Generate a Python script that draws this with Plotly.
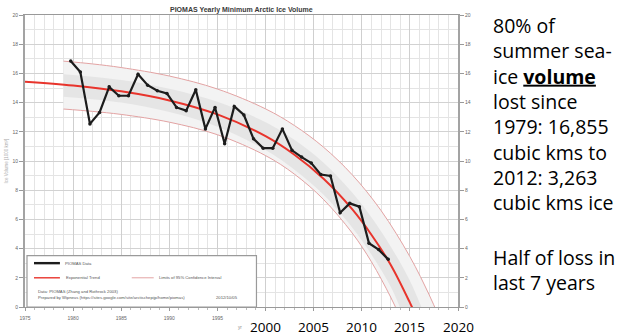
import plotly.graph_objects as go

# ---- PIOMAS yearly minimum Arctic sea-ice volume (1000 km^3) ----
years = list(range(1979, 2013))
volume = [16.855, 16.10, 12.54, 13.33, 15.08, 14.47, 14.47, 15.94, 15.19, 14.81,
          14.63, 13.67, 13.45, 14.88, 12.20, 13.67, 11.18, 13.74, 13.15, 11.52,
          10.88, 10.88, 12.20, 10.73, 10.27, 9.86, 9.07, 8.98, 6.46, 7.10,
          6.87, 4.37, 3.93, 3.263]
MINIMUM_OFFSET = 0.75  # September minimum, placed within its year

# Exponential trend
trend_years = [1975, 1980, 1985, 1990, 1995, 2000, 2003, 2006, 2009, 2011, 2013, 2015, 2016]
trend_vol = [15.43, 15.17, 14.77, 14.15, 13.19, 11.70, 10.43, 8.80, 6.70, 4.95, 2.90, 0.30, -1.15]

# Limits of 95% confidence interval
ci_hi_years = [1979, 1982, 1985, 1990, 1995, 2000, 2003, 2006, 2009, 2012, 2015, 2017, 2018]
ci_hi = [16.84, 16.65, 16.40, 15.82, 14.93, 13.57, 12.43, 10.96, 9.06, 6.61, 3.45, 0.84, -0.64]
ci_lo_years = [1979, 1982, 1985, 1990, 1995, 2000, 2003, 2006, 2009, 2011, 2013, 2014]
ci_lo = [13.56, 13.40, 13.19, 12.66, 11.80, 10.37, 9.10, 7.38, 5.07, 3.10, 0.68, -0.72]

# Inner shaded band around the trend
band_hi_years = [1979, 1985, 1990, 1995, 2000, 2003, 2006, 2009, 2011, 2013, 2015, 2016.5]
band_hi = [15.95, 15.55, 14.95, 14.05, 12.65, 11.45, 9.90, 7.85, 6.15, 4.15, 1.80, -0.50]
band_lo_years = [1979, 1985, 1990, 1995, 2000, 2003, 2006, 2009, 2011, 2013, 2014.5]
band_lo = [14.40, 14.00, 13.35, 12.35, 10.75, 9.40, 7.70, 5.45, 3.60, 1.40, -0.90]

small_year_ticks = list(range(1975, 2021, 5))
small_year_labels = ["1975", "1980", "1985", "1990", "1995", "", "", "", "", ""]
big_year_labels = [2000, 2005, 2010, 2015, 2020]

side_text = ("80% of<br>summer sea-<br>ice <b><u>volume</u></b><br>lost since<br>"
             "1979: 16,855<br>cubic kms to<br>2012: 3,263<br>cubic kms ice")
side_text2 = "Half of loss in<br>last 7 years"

# ---- layout geometry ----
W, H = 619, 335
ML, MR, MT, MB = 24, 161, 12, 28
PW, PH = W - ML - MR, H - MT - MB


def px_x(px):
    return (px - ML) / PW


def px_y(py):
    return (H - MB - py) / PH


RED = "#e8342c"
PINK = "#e3a3a3"
GREY_TXT = "#666666"

fig = go.Figure()

# outer confidence region
fig.add_trace(go.Scatter(x=ci_lo_years, y=ci_lo, mode="lines",
                         line=dict(color=PINK, width=1, shape="spline"),
                         hoverinfo="skip"))
fig.add_trace(go.Scatter(x=ci_hi_years, y=ci_hi, mode="lines",
                         line=dict(color=PINK, width=1, shape="spline"),
                         fill="tonexty", fillcolor="#f3f3f3", hoverinfo="skip"))
# inner band
fig.add_trace(go.Scatter(x=band_lo_years, y=band_lo, mode="lines",
                         line=dict(color="rgba(0,0,0,0)", width=0, shape="spline"),
                         hoverinfo="skip"))
fig.add_trace(go.Scatter(x=band_hi_years, y=band_hi, mode="lines",
                         line=dict(color="rgba(0,0,0,0)", width=0, shape="spline"),
                         fill="tonexty", fillcolor="#e5e5e5", hoverinfo="skip"))
# trend
fig.add_trace(go.Scatter(x=trend_years, y=trend_vol, mode="lines",
                         line=dict(color=RED, width=2, shape="spline"),
                         hoverinfo="skip"))
# data
fig.add_trace(go.Scatter(x=[y + MINIMUM_OFFSET for y in years], y=volume,
                         mode="lines+markers",
                         line=dict(color="#1c1c1c", width=2.2),
                         marker=dict(color="#1c1c1c", size=3.5)))
# right-hand axis companion
fig.add_trace(go.Scatter(x=[y + MINIMUM_OFFSET for y in years], y=volume,
                         yaxis="y2", mode="lines", opacity=0,
                         hoverinfo="skip"))

shapes = []
annotations = []

# legend box
shapes.append(dict(type="rect", xref="paper", yref="paper",
                   x0=px_x(26), x1=px_x(256), y0=px_y(307), y1=px_y(255),
                   fillcolor="white", line=dict(color="#9a9a9a", width=1.2),
                   layer="above"))
shapes.append(dict(type="line", xref="paper", yref="paper",
                   x0=px_x(33), x1=px_x(59), y0=px_y(262.7), y1=px_y(262.7),
                   line=dict(color="#1c1c1c", width=2.4), layer="above"))
shapes.append(dict(type="line", xref="paper", yref="paper",
                   x0=px_x(33), x1=px_x(59), y0=px_y(277.5), y1=px_y(277.5),
                   line=dict(color=RED, width=1.4), layer="above"))
shapes.append(dict(type="line", xref="paper", yref="paper",
                   x0=px_x(131), x1=px_x(153), y0=px_y(277.5), y1=px_y(277.5),
                   line=dict(color=PINK, width=1), layer="above"))


def tiny(text, x, y, size=4.2, color="#555555", anchor="left"):
    annotations.append(dict(text=text, xref="paper", yref="paper",
                            x=px_x(x), y=px_y(y), xanchor=anchor, yanchor="middle",
                            showarrow=False,
                            font=dict(size=size, color=color, family="Liberation Sans")))


tiny("PIOMAS Data", 62, 262.7)
tiny("Exponential Trend", 63, 277.5)
tiny("Limits of 95% Confidence Interval", 156, 277.5)
tiny("Data: PIOMAS (Zhang and Rothrock 2003)", 35, 291.5)
tiny("Prepared by Wipneus (https://sites.google.com/site/arctischepijp/home/piomas)", 35, 297.5)
tiny("2012/10/05", 213, 297.5)
tiny("yr", 235, 328, size=4.5, color="#888888")

# title
annotations.append(dict(text="<b>PIOMAS Yearly Minimum Arctic Ice Volume</b>",
                        xref="paper", yref="paper", x=px_x(241), y=px_y(7),
                        xanchor="center", yanchor="middle", showarrow=False,
                        font=dict(size=7, color="#3a3a3a", family="Liberation Sans")))

# y axis title
annotations.append(dict(text="Ice Volume [1000 km³]", xref="paper", yref="paper",
                        x=px_x(5), y=px_y(160), textangle=-90, showarrow=False,
                        xanchor="center", yanchor="middle",
                        font=dict(size=4.5, color="#aaaaaa", family="Liberation Sans")))

# large year labels
for yr in big_year_labels:
    annotations.append(dict(text=str(yr), xref="x", yref="paper", x=yr, y=px_y(327),
                            xanchor="center", yanchor="middle", showarrow=False,
                            font=dict(size=13.5, color="black", family="Open Sans")))

# side commentary
annotations.append(dict(text=side_text, xref="paper", yref="paper",
                        x=px_x(491), y=px_y(112.5), xanchor="left", yanchor="middle",
                        align="left", showarrow=False,
                        font=dict(size=19.5, color="black", family="Open Sans")))
annotations.append(dict(text=side_text2, xref="paper", yref="paper",
                        x=px_x(491), y=px_y(269.5), xanchor="left", yanchor="middle",
                        align="left", showarrow=False,
                        font=dict(size=19.5, color="black", family="Open Sans")))

axis_font = dict(size=5, color=GREY_TXT, family="Liberation Sans")

fig.update_layout(
    width=W, height=H,
    margin=dict(l=ML, r=MR, t=MT, b=MB, pad=0),
    paper_bgcolor="white", plot_bgcolor="white",
    showlegend=False,
    shapes=shapes, annotations=annotations,
    xaxis=dict(range=[1975, 2020], tickmode="array", tickvals=small_year_ticks,
               ticktext=small_year_labels, ticks="outside", ticklen=3,
               tickcolor="#999999", tickfont=axis_font, ticklabelstandoff=3,
               showgrid=True, gridcolor="#cfcfcf", gridwidth=1,
               minor=dict(dtick=1, tick0=1975, showgrid=True, gridcolor="#e4e4e4",
                          ticks="outside", ticklen=2, tickcolor="#bbbbbb"),
               showline=True, linecolor="#999999", linewidth=1, mirror=True,
               zeroline=False),
    yaxis=dict(range=[0, 20], tick0=0, dtick=2, ticks="outside", ticklen=4,
               tickcolor="#999999", tickfont=axis_font,
               showgrid=True, gridcolor="#d2d2d2",
               minor=dict(dtick=1, showgrid=True, gridcolor="#e4e4e4"),
               showline=True, linecolor="#a3a3a3", linewidth=2, zeroline=False),
    yaxis2=dict(range=[0, 20], tick0=0, dtick=2, overlaying="y", side="right",
                ticks="outside", ticklen=4, tickcolor="#999999", tickfont=axis_font,
                showgrid=False, showline=True, linecolor="#a3a3a3", linewidth=2,
                zeroline=False),
)

fig.write_html("out.html")
